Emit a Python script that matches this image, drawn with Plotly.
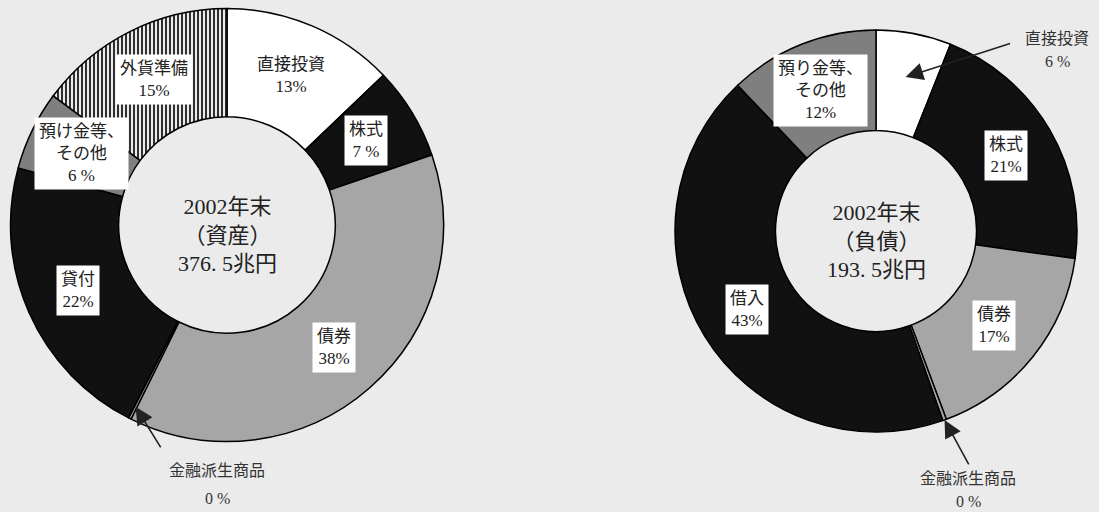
import math
import plotly.graph_objects as go

W, H = 1099, 512

# ---- data ----
asset_labels = ["直接投資", "株式", "債券", "金融派生商品", "貸付", "預け金等、<br>その他", "外貨準備"]
asset_values = [13, 7, 38, 0.2, 22, 6, 15]
asset_pct = ["13%", "7 %", "38%", "0 %", "22%", "6 %", "15%"]

liab_labels = ["直接投資", "株式", "債券", "金融派生商品", "借入", "預り金等、<br>その他"]
liab_values = [6, 21, 17, 0.3, 43, 12]
liab_pct = ["6 %", "21%", "17%", "0 %", "43%", "12%"]

asset_center = ["2002年末", "（資産）", "376. 5兆円"]
liab_center = ["2002年末", "（負債）", "193. 5兆円"]

# ---- styles ----
FONT = "Liberation Serif, Noto Sans CJK JP"
BG = "#ebebeb"
asset_colors = ["#ffffff", "#111111", "#a6a6a6", "#a6a6a6", "#111111", "#7f7f7f", "#ffffff"]
asset_shapes = ["", "", "", "", "", "", "|"]
liab_colors = ["#ffffff", "#111111", "#a6a6a6", "#a6a6a6", "#111111", "#7f7f7f"]
liab_shapes = ["", "", "", "", "", ""]

# pie geometry in pixels (center x, center y from top, radius)
L = dict(cx=227, cy=225, r=216.5)
R = dict(cx=876, cy=231, r=201)


def domain(g):
    return dict(x=[(g["cx"] - g["r"]) / W, (g["cx"] + g["r"]) / W],
                y=[1 - (g["cy"] + g["r"]) / H, 1 - (g["cy"] - g["r"]) / H])


def polar(g, vals, idx, frac_r, where="mid"):
    tot = sum(vals)
    cum = sum(vals[:idx])
    f = cum + (vals[idx] / 2 if where == "mid" else 0)
    th = 2 * math.pi * f / tot
    x = g["cx"] + frac_r * g["r"] * math.sin(th)
    y = g["cy"] - frac_r * g["r"] * math.cos(th)
    return x / W, 1 - y / H


fig = go.Figure()
for g, vals, cols, shp, labs in [(L, asset_values, asset_colors, asset_shapes, asset_labels),
                                  (R, liab_values, liab_colors, liab_shapes, liab_labels)]:
    fig.add_trace(go.Pie(
        values=vals, labels=[l.replace("<br>", "") for l in labs], sort=False, direction="clockwise",
        rotation=0, hole=0.5, domain=domain(g), textinfo="none", hoverinfo="label+percent",
        marker=dict(colors=cols, line=dict(color="#000000", width=1.5),
                    pattern=dict(shape=shp, fgcolor="#000000", size=4, solidity=0.4)),
        showlegend=False))

ann = []


def box(x, y, text, size=17):
    ann.append(dict(x=x, y=y, xref="paper", yref="paper", text=text, showarrow=False,
                    xanchor="center", yanchor="middle",
                    font=dict(family=FONT, size=size, color="#222"), bgcolor="#ffffff",
                    borderpad=4, align="center"))


def plain(x, y, text, size=16):
    ann.append(dict(x=x, y=y, xref="paper", yref="paper", text=text, showarrow=False,
                    xanchor="center", yanchor="middle",
                    font=dict(family=FONT, size=size, color="#333"), align="center"))


# inside labels (left)
for i in range(len(asset_values)):
    if i == 3:
        continue
    x, y = polar(L, asset_values, i, 0.75)
    box(x, y, asset_labels[i] + "<br>" + asset_pct[i])
# inside labels (right)
for i in range(len(liab_values)):
    if i in (0, 3):
        continue
    x, y = polar(R, liab_values, i, 0.75)
    box(x, y, liab_labels[i] + "<br>" + liab_pct[i])

# center texts
for g, txt in [(L, asset_center), (R, liab_center)]:
    ann.append(dict(x=g["cx"] / W, y=1 - (g["cy"] + 10) / H, xref="paper", yref="paper",
                    text="<br>".join(txt), showarrow=False, xanchor="center", yanchor="middle",
                    font=dict(family=FONT, size=22, color="#222"), align="center"))


# arrows
def arrow(x, y, ax, ay):
    ann.append(dict(x=x, y=y, xref="paper", yref="paper", text="", showarrow=True,
                    arrowhead=2, arrowsize=2.2, arrowwidth=1.6, arrowcolor="#222",
                    ax=ax, ay=ay, standoff=0))


x, y = polar(L, asset_values, 3, 0.94)
arrow(x, y, 26, 42)
plain(217 / W, 1 - 470 / H, asset_labels[3])
plain(217 / W, 1 - 498 / H, asset_pct[3])

x, y = polar(R, liab_values, 3, 1.0)
arrow(x, y, 25, 46)
plain(968 / W, 1 - 478 / H, liab_labels[3])
plain(968 / W, 1 - 501 / H, liab_pct[3])

x, y = polar(R, liab_values, 0, 0.78)
arrow(x, y, 106, -34)
plain(1057 / W, 1 - 38 / H, liab_labels[0])
plain(1057 / W, 1 - 61 / H, liab_pct[0])

fig.update_layout(width=W, height=H, margin=dict(l=0, r=0, t=0, b=0),
                  paper_bgcolor=BG, plot_bgcolor=BG, annotations=ann,
                  font=dict(family=FONT))
fig.write_html("out.html")
